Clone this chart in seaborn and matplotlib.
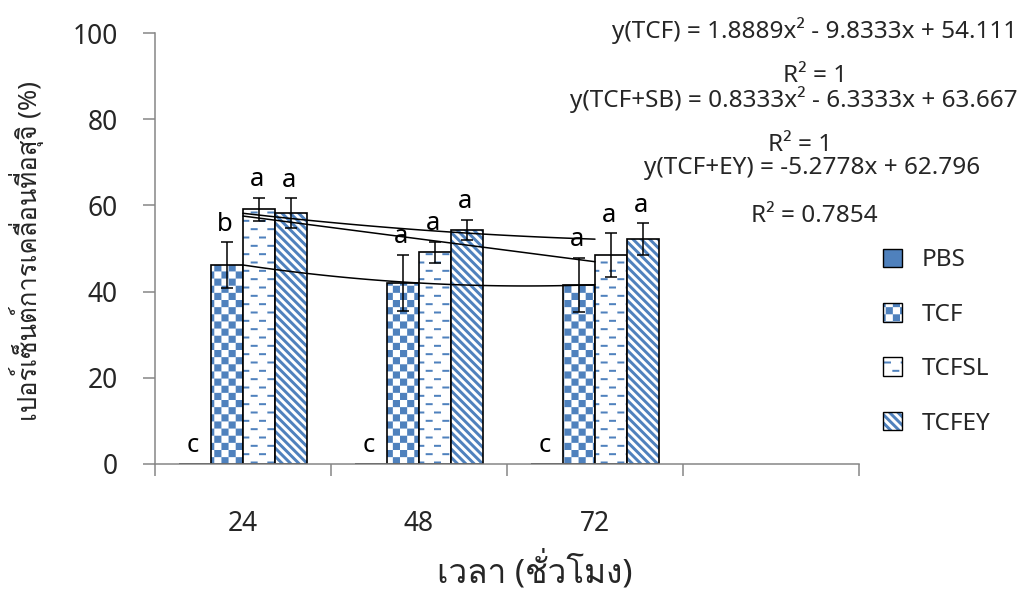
import numpy as np
import pandas as pd
import matplotlib
matplotlib.use("Agg")
import matplotlib.pyplot as plt
import matplotlib.hatch as mhatch
from matplotlib.path import Path
from matplotlib.patches import Patch
from matplotlib.colors import to_rgba
from matplotlib import font_manager, ft2font
import seaborn as sns

# ---------------- data ----------------
times = ["24", "48", "72", ""]          # 4th slot is empty in the original chart
groups = ["PBS", "TCF", "TCFSL", "TCFEY"]
pbs = [0.0, 0.0, 0.0]
tcf = [46.17, 42.0, 41.6]
tcfsl = [59.1, 49.1, 48.5]
tcfey = [58.17, 54.33, 52.17]
pbs_err = [0.0, 0.0, 0.0]
tcf_err = [5.3, 6.6, 6.3]
tcfsl_err = [2.7, 2.5, 5.0]
tcfey_err = [3.5, 2.3, 3.7]
pbs_lab = ["c", "c", "c"]
tcf_lab = ["b", "a", "a"]
tcfsl_lab = ["a", "a", "a"]
tcfey_lab = ["a", "a", "a"]
eq_texts = ["y(TCF) = 1.8889x\u00b2 - 9.8333x + 54.111", "R\u00b2 = 1",
            "y(TCF+SB) = 0.8333x\u00b2 - 6.3333x + 63.667", "R\u00b2 = 1",
            "y(TCF+EY) = -5.2778x + 62.796", "R\u00b2 = 0.7854"]
ylabel = "เปอร์เซ็นต์การเคลื่อนที่อสุจิ (%)"
xlabel = "เวลา (ชั่วโมง)"

BLUE = "#4F81BD"
GRAY = "#868686"

# ---------------- custom fill patterns (Excel-like) ----------------
def _square(x0, y0, w, h):
    return [(x0, y0), (x0 + w, y0), (x0 + w, y0 + h), (x0, y0 + h), (x0, y0)]

SQ_CODES = [Path.MOVETO, Path.LINETO, Path.LINETO, Path.LINETO, Path.CLOSEPOLY]


class CheckerHatch(mhatch.HatchPatternBase):
    n = 14

    def __init__(self, hatch, density):
        self.num_vertices = (self.n * self.n // 2) * 5 if '+' in hatch else 0

    def set_vertices_and_codes(self, vertices, codes):
        s = 1.0 / self.n
        v, c = [], []
        for i in range(self.n):
            for j in range(self.n):
                if (i + j) % 2 == 0:
                    v += _square(i * s, j * s, s, s)
                    c += SQ_CODES
        vertices[:] = v
        codes[:] = c


class DashHatch(mhatch.HatchPatternBase):
    rows = 12
    cols = 6
    length = 0.07
    thick = 0.02

    def __init__(self, hatch, density):
        self.num_vertices = self.rows * self.cols * 5 if '-' in hatch else 0

    def set_vertices_and_codes(self, vertices, codes):
        v, c = [], []
        for r in range(self.rows):
            y = (r + 0.5) / self.rows
            off = 0.25 if r % 2 == 0 else 0.75
            for k in range(self.cols):
                x = (k + off) / self.cols
                v += _square(x - self.length / 2, y - self.thick / 2, self.length, self.thick)
                c += SQ_CODES
        vertices[:] = v
        codes[:] = c


class StripeHatch(mhatch.HatchPatternBase):
    n = 12
    w = 0.042

    def __init__(self, hatch, density):
        self.num_vertices = (2 * self.n + 2) * 5 if '\\' in hatch else 0

    def set_vertices_and_codes(self, vertices, codes):
        v, c = [], []
        for k in range(-1, 2 * self.n + 1):
            cc = k / self.n
            w = self.w
            v += [(cc + 1, -1), (cc + w + 1, -1), (cc + w - 2, 2), (cc - 2, 2), (cc + 1, -1)]
            c += SQ_CODES
        vertices[:] = v
        codes[:] = c


mhatch._hatch_types[:] = [CheckerHatch, DashHatch, StripeHatch]
HATCH = {"PBS": None, "TCF": "+", "TCFSL": "-", "TCFEY": "\\"}


def style_patch(p, name, lw):
    if name == "PBS":
        p.set_facecolor(BLUE)
        p.set_hatch(None)
    else:
        p.set_facecolor("white")
        p.set_hatch(HATCH[name])
    p.set_edgecolor("black")
    p.set_linewidth(lw)
    if name != "PBS":
        if hasattr(p, "set_hatchcolor"):
            p.set_hatchcolor(BLUE)
        else:
            p._hatch_color = to_rgba(BLUE)


# ---------------- fonts ----------------
sns.set_style("white")
thai_fams = []
for f in font_manager.fontManager.ttflist:
    try:
        cmap = ft2font.FT2Font(f.fname).get_charmap()
    except Exception:
        continue
    if 0x0E40 in cmap and 0x0E2A in cmap and f.name not in thai_fams:
        thai_fams.append(f.name)
FAMS = ["Noto Sans"] + thai_fams + ["DejaVu Sans"]
plt.rcParams["font.family"] = FAMS
plt.rcParams["hatch.linewidth"] = 0.0

# ---------------- figure ----------------
W, H = 1029, 591
fig = plt.figure(figsize=(W / 100, H / 100), dpi=100)
L, R, T, B = 155, 859, 33, 464
ax = fig.add_axes([L / W, (H - B) / H, (R - L) / W, (B - T) / H])

vals = {"PBS": pbs, "TCF": tcf, "TCFSL": tcfsl, "TCFEY": tcfey}
errs = {"PBS": pbs_err, "TCF": tcf_err, "TCFSL": tcfsl_err, "TCFEY": tcfey_err}
labs = {"PBS": pbs_lab, "TCF": tcf_lab, "TCFSL": tcfsl_lab, "TCFEY": tcfey_lab}
rows = []
for g in groups:
    for t, v in zip(times[:3], vals[g]):
        rows.append({"time": t, "group": g, "value": v})
df = pd.DataFrame(rows)

sns.barplot(data=df, x="time", y="value", hue="group", order=times,
            hue_order=groups, width=0.727, errorbar=None, ax=ax,
            legend=False, saturation=1)

for g, cont in zip(groups, ax.containers):
    bars = list(cont)
    bars.sort(key=lambda b: b.get_x())
    for b, e, lab in zip(bars, errs[g], labs[g]):
        style_patch(b, g, 1.2)
        xc = b.get_x() + b.get_width() / 2
        top = b.get_height()
        if e > 0:
            ax.errorbar(xc, top, yerr=e, fmt="none", ecolor="black",
                        elinewidth=1.1, capsize=4.5, capthick=1.1, zorder=4)
        ax.annotate(lab, (xc, top + e), xytext=(-1.5, 13), textcoords="offset points",
                    ha="center", va="center", fontsize=18.5, color="black", zorder=5)

# trendlines (Excel-style fits of the bar values, x = 1..3)
xs = np.array([1, 2, 3])
for g, deg in [("TCF", 2), ("TCFEY", 2), ("TCFSL", 1)]:
    coef = np.polyfit(xs, vals[g], deg)
    xx = np.linspace(1, 3, 100)
    ax.plot(xx - 1, np.polyval(coef, xx), color="black", lw=1.1, zorder=3)

ax.set_ylim(0, 100)
ax.set_xlim(-0.5, 3.5)
ax.set_yticks(np.arange(0, 101, 20))
ax.set_xticks([-0.5, 0.5, 1.5, 2.5, 3.5])
ax.set_xticklabels([])
ax.set_xticks([0, 1, 2, 3], minor=True)
ax.set_xticklabels(times, minor=True)
ax.tick_params(axis="x", which="major", bottom=True, length=8.6, width=1.1,
               color=GRAY, direction="out")
ax.tick_params(axis="x", which="minor", bottom=True, length=0, pad=33, labelsize=19)
ax.tick_params(axis="y", left=True, length=8.6, width=1.1, color=GRAY, direction="out",
               pad=18, labelsize=19)
for s in ["top", "right"]:
    ax.spines[s].set_visible(False)
for s in ["left", "bottom"]:
    ax.spines[s].set_color(GRAY)
    ax.spines[s].set_linewidth(1.1)
ax.grid(False)

ax.set_ylabel(ylabel, fontsize=18.5)
ax.yaxis.label.set_va("center")
ax.yaxis.set_label_coords((27 - L) / (R - L), (B - 251) / (B - T))
ax.set_xlabel(xlabel, fontsize=24)
ax.xaxis.label.set_va("center")
ax.xaxis.set_label_coords((535 - L) / (R - L), -(571 - B) / (B - T))

# trendline equations
eq_pos = [(815, 31), (815, 76), (794, 100), (800, 145), (812, 168), (814, 216)]
for txt, (px, py) in zip(eq_texts, eq_pos):
    fig.text(px / W, 1 - py / H, txt, ha="center", va="center", fontsize=17.5)

# legend
handles = []
for g in groups:
    p = Patch(label=g)
    style_patch(p, g, 1.0)
    handles.append(p)
leg = fig.legend(handles=handles, loc="center left",
                 bbox_to_anchor=(873 / W, 1 - 342 / H), frameon=False,
                 borderaxespad=0, fontsize=17.5, handlelength=0.8, handleheight=0.8,
                 labelspacing=1.25, handletextpad=0.8)

fig.savefig("out.png", dpi=100)
